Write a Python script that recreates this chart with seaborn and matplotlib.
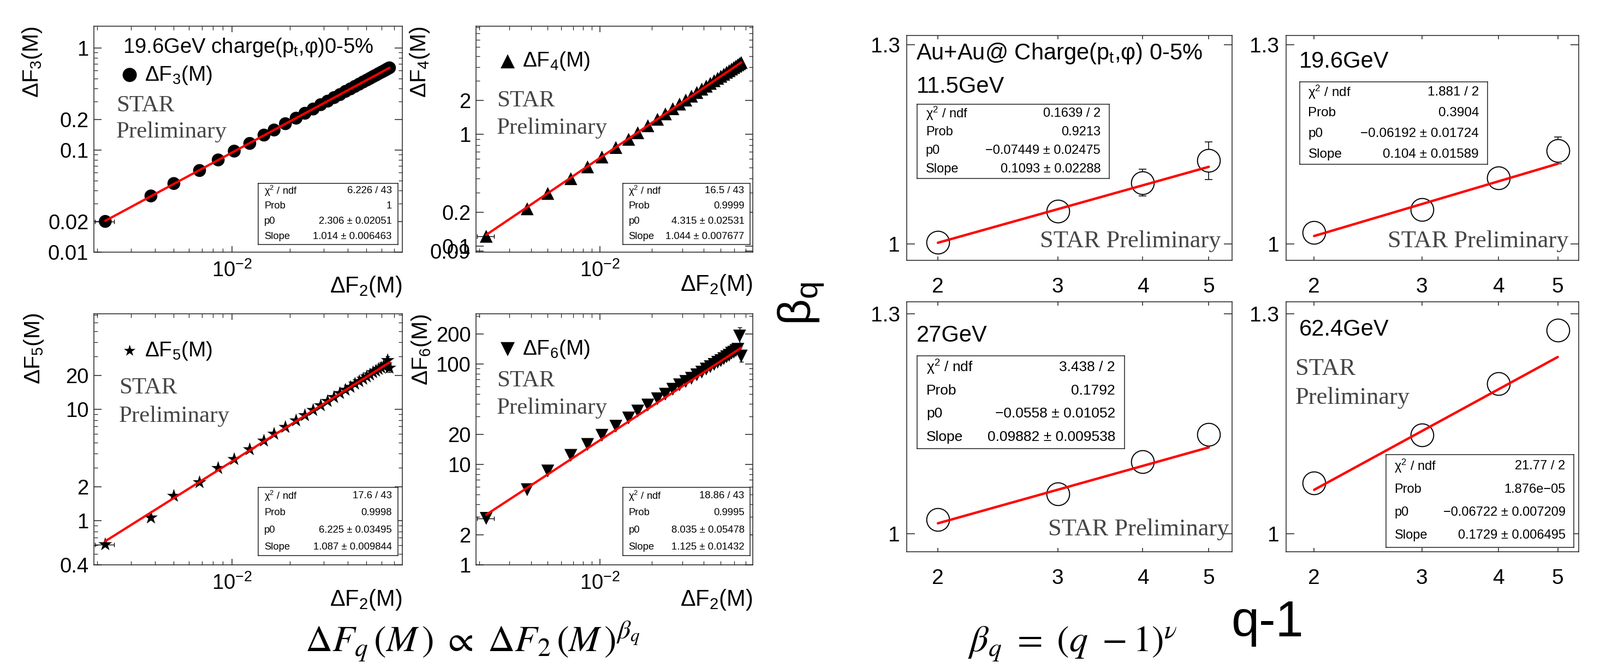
import matplotlib
matplotlib.use("Agg")
import numpy as np
import pandas as pd
import matplotlib.pyplot as plt
import seaborn as sns
from matplotlib.ticker import NullFormatter, NullLocator, LogLocator

# ---------------- data ----------------
dF2 = [0.0022, 0.0038, 0.0050, 0.0068, 0.0085, 0.0103, 0.0124, 0.0147, 0.0166, 0.0190,
       0.0216, 0.0240, 0.0265, 0.0290, 0.0315, 0.0340, 0.0365, 0.0390, 0.0414, 0.0437,
       0.0460, 0.0482, 0.0503, 0.0523, 0.0543, 0.0562, 0.0580, 0.0598, 0.0615, 0.0631,
       0.0646, 0.0660]
dF2_xerr = [0.00025, 0.0, 0.0, 0.0, 0.0, 0.0, 0.0, 0.0, 0.0, 0.0,
            0.0, 0.0, 0.0, 0.0, 0.0, 0.0, 0.0, 0.0, 0.0, 0.0,
            0.0, 0.0, 0.0, 0.0, 0.0, 0.0, 0.0, 0.0, 0.0, 0.0,
            0.0, 0.0]
dF3 = [0.0200, 0.0355, 0.0470, 0.0630, 0.0800, 0.0975, 0.116, 0.140, 0.157, 0.181,
       0.205, 0.229, 0.252, 0.278, 0.301, 0.326, 0.349, 0.375, 0.397, 0.420,
       0.442, 0.464, 0.484, 0.503, 0.524, 0.541, 0.560, 0.577, 0.593, 0.609,
       0.625, 0.638]
dF4 = [0.122, 0.215, 0.295, 0.40, 0.51, 0.625, 0.76, 0.90, 1.03, 1.19,
       1.36, 1.52, 1.69, 1.86, 2.02, 2.19, 2.36, 2.53, 2.69, 2.85,
       3.01, 3.16, 3.30, 3.44, 3.58, 3.70, 3.83, 3.95, 4.07, 4.18,
       4.28, 4.38]
dF5 = [0.61, 1.06, 1.66, 2.20, 2.95, 3.55, 4.35, 5.20, 6.00, 6.90,
       7.90, 8.80, 9.80, 10.8, 11.8, 12.8, 13.9, 14.9, 15.8, 16.9,
       17.8, 18.7, 19.6, 20.4, 21.4, 22.1, 22.9, 23.6, 24.4, 25.1,
       27.5, 23.5]
dF5_yerr = [0.0, 0.0, 0.0, 0.0, 0.0, 0.0, 0.0, 0.0, 0.0, 0.0,
            0.0, 0.0, 0.0, 0.0, 0.0, 0.0, 0.0, 0.0, 0.0, 0.0,
            0.0, 0.0, 0.0, 0.0, 0.0, 0.0, 0.0, 0.0, 0.8, 0.9,
            2.5, 2.0]
dF6 = [2.9, 5.6, 8.6, 12.3, 15.8, 19.5, 24.0, 29.0, 34.0, 39.0,
       45.0, 50.0, 56.0, 62.0, 67.0, 72.0, 78.0, 83.0, 89.0, 94.0,
       99.0, 104.0, 108.0, 113.0, 118.0, 122.0, 128.0, 131.0, 136.0, 140.0,
       190.0, 120.0]
dF6_yerr = [0.0, 0.0, 0.0, 0.0, 0.0, 0.0, 0.0, 0.0, 0.0, 0.0,
            0.0, 0.0, 0.0, 0.0, 0.0, 0.0, 0.0, 0.0, 0.0, 0.0,
            0.0, 0.0, 0.0, 0.0, 0.0, 0.0, 0.0, 0.0, 6.0, 8.0,
            40.0, 15.0]

left_p0 = [2.306, 4.315, 6.225, 8.035]
left_slope = [1.014, 1.044, 1.087, 1.125]
left_stats = [
    ["6.226 / 43", "1", "2.306 ± 0.02051", "1.014 ± 0.006463"],
    ["16.5 / 43", "0.9999", "4.315 ± 0.02531", "1.044 ± 0.007677"],
    ["17.6 / 43", "0.9998", "6.225 ± 0.03495", "1.087 ± 0.009844"],
    ["18.86 / 43", "0.9995", "8.035 ± 0.05478", "1.125 ± 0.01432"],
]

q_minus_1 = [2, 3, 4, 5]
q_tick_labels = ["2", "3", "4", "5"]
energies = ["11.5GeV", "19.6GeV", "27GeV", "62.4GeV"]
beta_11p5 = [1.002, 1.044, 1.084, 1.116]
beta_19p6 = [1.015, 1.046, 1.091, 1.131]
beta_27 = [1.017, 1.049, 1.090, 1.126]
beta_62p4 = [1.063, 1.125, 1.196, 1.275]
beta_err_11p5 = [0.004, 0.008, 0.019, 0.028]
beta_err_19p6 = [0.004, 0.006, 0.010, 0.020]
beta_err_27 = [0.003, 0.005, 0.008, 0.012]
beta_err_62p4 = [0.003, 0.004, 0.006, 0.008]
right_p0 = [-0.07449, -0.06192, -0.0558, -0.06722]
right_slope = [0.1093, 0.104, 0.09882, 0.1729]
right_stats = [
    ["0.1639 / 2", "0.9213", "−0.07449 ± 0.02475", "0.1093 ± 0.02288"],
    ["1.881 / 2", "0.3904", "−0.06192 ± 0.01724", "0.104 ± 0.01589"],
    ["3.438 / 2", "0.1792", "−0.0558 ± 0.01052", "0.09882 ± 0.009538"],
    ["21.77 / 2", "1.876e−05", "−0.06722 ± 0.007209", "0.1729 ± 0.006495"],
]
stat_labels = ["χ$^2$ / ndf", "Prob", "p0", "Slope"]

# ---------------- style ----------------
sns.set_theme(style="ticks")
plt.rcParams["font.family"] = ["Liberation Sans", "DejaVu Sans"]
plt.rcParams["mathtext.fontset"] = "custom"
plt.rcParams["mathtext.rm"] = "Liberation Sans"
plt.rcParams["mathtext.it"] = "Liberation Sans:italic"
plt.rcParams["mathtext.bf"] = "Liberation Sans:bold"
plt.rcParams["axes.linewidth"] = 1.1
plt.rcParams["axes.edgecolor"] = "#222222"
plt.rcParams["xtick.direction"] = "in"
plt.rcParams["ytick.direction"] = "in"
plt.rcParams["xtick.top"] = True
plt.rcParams["ytick.right"] = True
plt.rcParams["xtick.color"] = "#222222"
plt.rcParams["ytick.color"] = "#222222"
plt.rcParams["text.color"] = "black"
plt.rcParams["axes.labelcolor"] = "black"

W, H = 2931, 1224
fig = plt.figure(figsize=(W / 100, H / 100), dpi=100, facecolor="white")


def add_ax(r):
    x0, y0, x1, y1 = r
    return fig.add_axes([x0 / W, 1 - y1 / H, (x1 - x0) / W, (y1 - y0) / H])


def fr(r, x, y):
    x0, y0, x1, y1 = r
    return ((x - x0) / (x1 - x0), (y1 - y) / (y1 - y0))


def stats_box(ax, r, b, values, fs):
    bx0, by0, bx1, by1 = b
    fx0, fy0 = fr(r, bx0, by1)
    fx1, fy1 = fr(r, bx1, by0)
    ins = ax.inset_axes([fx0, fy0, fx1 - fx0, fy1 - fy0])
    ins.set_xticks([])
    ins.set_yticks([])
    ins.tick_params(which="both", top=False, right=False, bottom=False, left=False)
    ins.set_facecolor("white")
    for sp in ins.spines.values():
        sp.set_linewidth(1.1)
        sp.set_color("#222222")
    ins.set_zorder(6)
    for i, (lab, val) in enumerate(zip(stat_labels, values)):
        yy = 1 - (i + 0.5) / 4
        ins.text(0.045, yy, lab, ha="left", va="center", fontsize=fs, transform=ins.transAxes)
        ins.text(0.955, yy, val, ha="right", va="center", fontsize=fs, transform=ins.transAxes)


STAR_COLOR = "#454545"

# ---------------- left panels: dF_q vs dF_2 ----------------
left_cfg = [
    dict(r=(172, 48, 737, 462), y=dF3, yerr=None, ylim=(0.01, 1.63),
         yt=[0.01, 0.02, 0.1, 0.2, 1], ytl=["0.01", "0.02", "0.1", "0.2", "1"],
         mk="o", ms=17, lms=1.1, leg=(224, 137.5), q="3",
         star=[(213, 203.6), (213, 251.8)], box=(472.6, 336, 729.4, 448),
         ylab=(80, 48), xlab_top=503),
    dict(r=(872, 48, 1379, 462), y=dF4, yerr=None, ylim=(0.088, 9.25),
         yt=[0.09, 0.1, 0.2, 1, 2], ytl=["0.09", "0.1", "0.2", "1", "2"],
         mk="^", ms=17, lms=1.1, leg=(916.4, 112.5), q="4",
         star=[(910, 194.6), (910, 244.6)], box=(1141, 336, 1374, 448),
         ylab=(790, 48), xlab_top=500),
    dict(r=(172, 575, 737, 1035), y=dF5, yerr=dF5_yerr, ylim=(0.4, 72),
         yt=[0.4, 1, 2, 10, 20], ytl=["0.4", "1", "2", "10", "20"],
         mk="*", ms=19, lms=0.85, leg=(224, 643), q="5",
         star=[(218, 721), (218, 773)], box=(472.6, 893, 729.4, 1018),
         ylab=(83, 573), xlab_top=1077),
    dict(r=(872, 575, 1379, 1035), y=dF6, yerr=dF6_yerr, ylim=(1, 316),
         yt=[1, 2, 10, 20, 100, 200], ytl=["1", "2", "10", "20", "100", "200"],
         mk="v", ms=17, lms=1.1, leg=(916.4, 640), q="6",
         star=[(910, 708), (910, 758)], box=(1141, 893, 1374, 1018),
         ylab=(793, 575), xlab_top=1077),
]

for i, c in enumerate(left_cfg):
    r = c["r"]
    ax = add_ax(r)
    ys = c["y"]
    ax.errorbar(dF2, ys, xerr=dF2_xerr, yerr=c["yerr"], fmt="none", ecolor="black",
                elinewidth=1.0, capsize=3, capthick=1.0, zorder=2)
    sns.scatterplot(x=dF2, y=ys, marker=c["mk"], s=c["ms"] ** 2, color="black",
                    edgecolor="none", linewidth=0, ax=ax, zorder=3, legend=False,
                    label="ΔF$_%s$(M)" % c["q"])
    coll = ax.collections[-1]
    fit_x = np.array(dF2)
    fit_y = np.exp(left_p0[i]) * fit_x ** left_slope[i]
    sns.lineplot(x=fit_x, y=fit_y, color="red", lw=3.0, ax=ax, sort=False,
                 estimator=None, zorder=4, legend=False)
    ax.set_xscale("log")
    ax.set_yscale("log")
    ax.set_xlim(1.92e-3, 0.077)
    ax.set_ylim(*c["ylim"])
    ax.set_xticks([0.01], [r"$10^{-2}$"])
    ax.set_yticks(c["yt"], c["ytl"])
    ax.xaxis.set_minor_locator(LogLocator(base=10, subs=(2, 3, 4, 5, 6, 7, 8, 9), numticks=20))
    ax.yaxis.set_minor_locator(LogLocator(base=10, subs=(2, 3, 4, 5, 6, 7, 8, 9), numticks=20))
    ax.xaxis.set_minor_formatter(NullFormatter())
    ax.yaxis.set_minor_formatter(NullFormatter())
    ax.tick_params(axis="both", which="major", labelsize=27.5, width=1.1, colors="#222222")
    ax.tick_params(axis="y", which="major", length=10, pad=7)
    ax.tick_params(axis="x", which="major", length=8, pad=11)
    ax.tick_params(axis="both", which="minor", length=5, width=0.9)
    for t in ax.get_xticklabels() + ax.get_yticklabels():
        t.set_color("black")
    ax.set_facecolor("white")

    ax.set_ylabel("ΔF$_%s$(M)" % c["q"], fontsize=29.5, loc="top")
    ax.yaxis.set_label_coords(*fr(r, c["ylab"][0], c["ylab"][1]))
    ax.set_xlabel("ΔF$_2$(M)", fontsize=30, loc="right")
    ax.xaxis.set_label_coords(1.0, fr(r, 0, c["xlab_top"])[1])

    ax.legend(handles=[coll], labels=["ΔF$_%s$(M)" % c["q"]], loc="center left",
              bbox_to_anchor=fr(r, c["leg"][0], c["leg"][1]), frameon=False,
              fontsize=28, handlelength=0.7, handletextpad=0.35, borderpad=0,
              borderaxespad=0, markerscale=c["lms"], scatterpoints=1)

    ax.text(*fr(r, *c["star"][0]), "STAR", transform=ax.transAxes, fontsize=31,
            family="Liberation Serif", color=STAR_COLOR, ha="left", va="baseline")
    ax.text(*fr(r, *c["star"][1]), "Preliminary", transform=ax.transAxes, fontsize=31,
            family="Liberation Serif", color=STAR_COLOR, ha="left", va="baseline")
    stats_box(ax, r, c["box"], left_stats[i], 13.3)
    if i == 0:
        ax.text(*fr(r, 225, 97), r"19.6GeV charge(p$_{\rm t}$,φ)0-5%",
                transform=ax.transAxes, fontsize=27.5, ha="left", va="baseline")

# ---------------- right panels: beta_q vs q-1 ----------------
betas = [beta_11p5, beta_19p6, beta_27, beta_62p4]
beta_errs = [beta_err_11p5, beta_err_19p6, beta_err_27, beta_err_62p4]
right_cfg = [
    dict(r=(1661, 65, 2257, 477.5), ylim=(0.978, 1.316), en=(1678.5, 170.3),
         box=(1680, 191, 2032, 327), bfs=17, star=[((1905, 453.5), "STAR Preliminary")]),
    dict(r=(2356, 65, 2892, 477.5), ylim=(0.978, 1.316), en=(2379.5, 124.4),
         box=(2381, 150, 2724.5, 301.5), bfs=17.5, star=[((2541.7, 453.5), "STAR Preliminary")]),
    dict(r=(1661, 553, 2257, 1011), ylim=(0.979, 1.319), en=(1678.5, 625.6),
         box=(1680, 652, 2060, 822), bfs=19, star=[((1920, 981), "STAR Preliminary")]),
    dict(r=(2356, 553, 2892, 1011), ylim=(0.979, 1.319), en=(2379.5, 615),
         box=(2539, 833, 2883, 1002.5), bfs=17,
         star=[((2373, 687), "STAR"), ((2373, 740), "Preliminary")]),
]

for i, c in enumerate(right_cfg):
    r = c["r"]
    ax = add_ax(r)
    ax.errorbar(q_minus_1, betas[i], yerr=beta_errs[i], fmt="none", ecolor="black",
                elinewidth=1.1, capsize=5, capthick=1.1, zorder=2)
    sns.scatterplot(x=q_minus_1, y=betas[i], marker="o", s=30 ** 2, facecolor="white",
                    edgecolor="black", linewidth=1.4, ax=ax, zorder=3, legend=False)
    qq = np.array(q_minus_1, dtype=float)
    fit_b = np.exp(right_p0[i]) * qq ** right_slope[i]
    sns.lineplot(x=qq, y=fit_b, color="red", lw=3.2, ax=ax, sort=False,
                 estimator=None, zorder=4, legend=False)
    ax.set_xscale("log")
    ax.set_yscale("log")
    ax.set_xlim(1.80, 5.41)
    ax.set_ylim(*c["ylim"])
    ax.set_xticks(q_minus_1, q_tick_labels)
    ax.set_yticks([1, 1.3], ["1", "1.3"])
    ax.xaxis.set_minor_locator(NullLocator())
    ax.yaxis.set_minor_locator(NullLocator())
    ax.tick_params(axis="both", which="major", labelsize=28, width=1.1, colors="#222222")
    ax.tick_params(axis="x", which="major", length=5, pad=22)
    ax.tick_params(axis="y", which="major", length=11, pad=9)
    for t in ax.get_xticklabels() + ax.get_yticklabels():
        t.set_color("black")
    ax.set_facecolor("white")

    ax.text(*fr(r, *c["en"]), energies[i], transform=ax.transAxes, fontsize=30,
            ha="left", va="baseline")
    if i == 0:
        ax.text(*fr(r, 1678.5, 109), r"Au+Au@ Charge(p$_{\rm t}$,φ) 0-5%",
                transform=ax.transAxes, fontsize=30, ha="left", va="baseline")
    for (pos, txt) in c["star"]:
        ax.text(*fr(r, *pos), txt, transform=ax.transAxes, fontsize=32,
                family="Liberation Serif", color=STAR_COLOR, ha="left", va="baseline")
    stats_box(ax, r, c["box"], right_stats[i], c["bfs"])

# ---------------- global labels / formulas ----------------
fig.text(1468 / W, 1 - 556 / H, r"β$_{\rm q}$", fontsize=60, rotation=90,
         ha="center", va="center")
fig.text(2255 / W, 1 - 1166 / H, "q-1", fontsize=66, ha="left", va="baseline")
fig.text(866 / W, 1 - 1194 / H,
         r"$\Delta F_q\,(M\,)\ \propto\ \Delta F_2\,(M\,)^{\beta_q}$",
         fontsize=49, ha="center", va="baseline", math_fontfamily="stix")
fig.text(1965 / W, 1 - 1194 / H, r"$\beta_q\ =\ (q\ -1)^{\nu}$",
         fontsize=49, ha="center", va="baseline", math_fontfamily="stix")

fig.savefig("out.png", dpi=100, facecolor="white")
